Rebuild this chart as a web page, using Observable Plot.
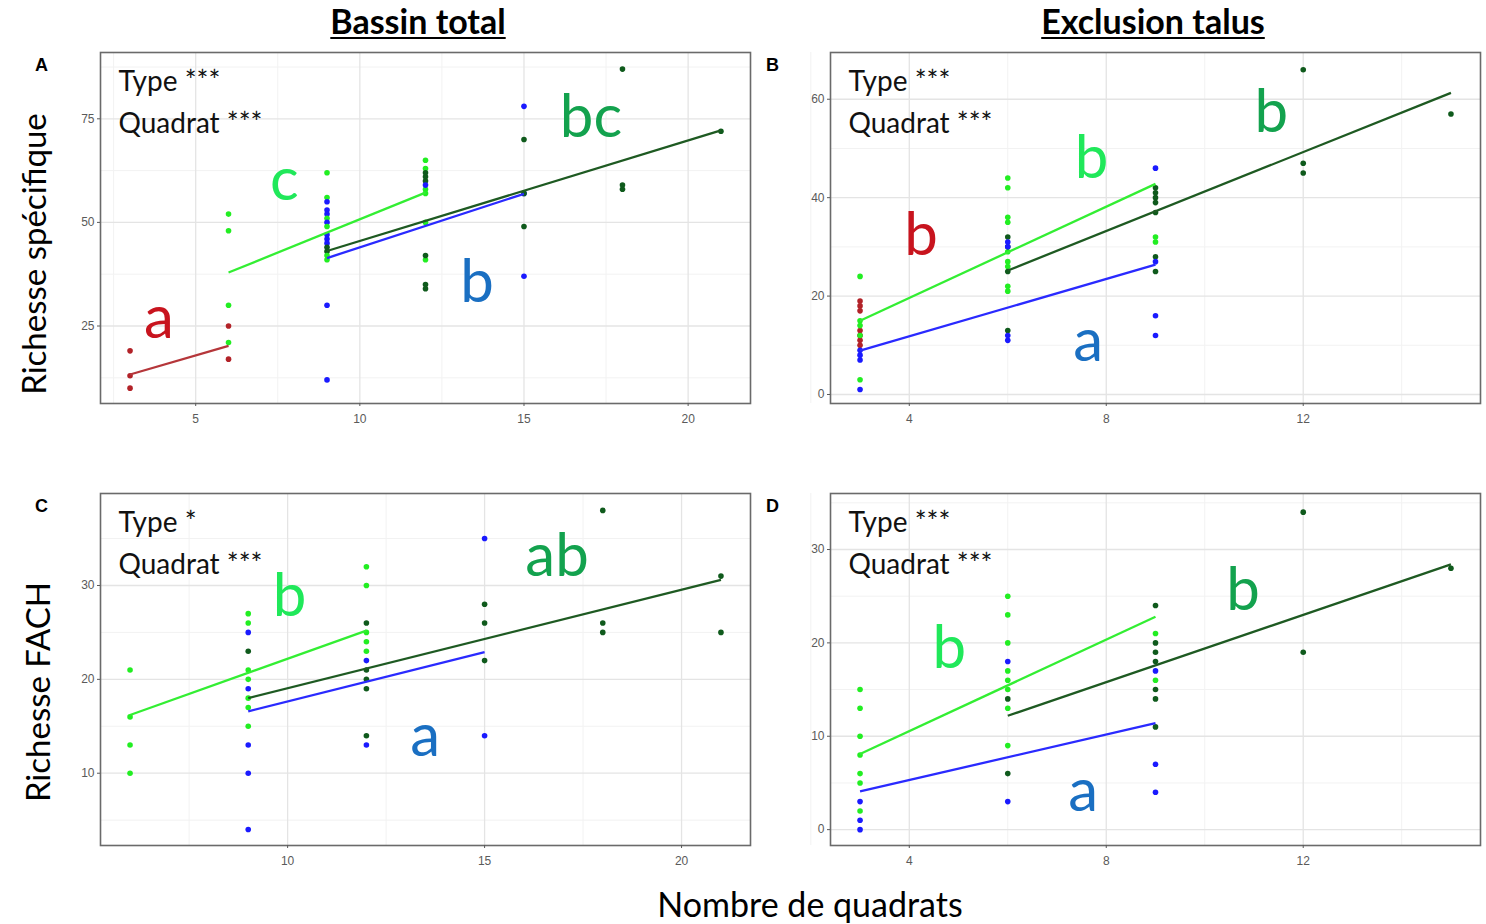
<!DOCTYPE html>
<html>
<head>
<meta charset="utf-8">
<script src="https://cdn.jsdelivr.net/npm/d3@7"></script>
<script src="https://cdn.jsdelivr.net/npm/@observablehq/plot@0.6"></script>
<style>
  html, body { margin: 0; padding: 0; background: #fff; }
  #root { position: relative; width: 1486px; height: 924px; overflow: hidden; font-family: Lato, "Open Sans", sans-serif; }
  .abs { position: absolute; white-space: nowrap; line-height: 1; }
  .title { font-weight: 700; font-size: 34px; text-decoration: underline; text-decoration-thickness: 2px; text-underline-offset: 3px; color: #000; transform: translateX(-50%); }
  .ytitle { font-size: 33px; color: #000; transform: translate(-50%, -50%) rotate(-90deg); }
  .xtitle { font-size: 34px; color: #000; transform: translateX(-50%); }
  .tag { font-family: "Liberation Sans", Arial, sans-serif; font-weight: 700; font-size: 18px; color: #000; }
</style>
</head>
<body>
<div id="root"></div>
<script>
// ---------- types and colours ----------
const types = ["rouge", "clair", "bleu", "fonce"];
const dotColors = ["#b22228", "#22ee22", "#1a1aff", "#0f5a1c"];
const lineColors = ["#b5363a", "#33ee33", "#2a2aff", "#1e5a22"];
const labelColors = ["#c8141e", "#20e85a", "#1a6fc2", "#13a24e"];

// ---------- Panel A : Bassin total / Richesse spécifique ----------
const ptsA_x = [3,3,3, 6,6,6,6,6,6,
  9,9,9,9,9,9,9,9,9,9,9,9,9,9,9,9,9,
  12,12,12,12,12,12,12,12,12,12,12,12,12,
  15,15,15,15,15,15, 18,18,18, 21];
const ptsA_y = [19,13,10, 52,48,30,21,25,17,
  62,56,55,53,52,51,50,49,47,46,45,44,43,42,41,30,12,
  65,63,58,57,50,41,62,61,60,42,35,34,59,
  78,37,57,70,49,57, 87,59,58, 72];
const ptsA_t = ["rouge","rouge","rouge", "clair","clair","clair","clair","rouge","rouge",
  "clair","clair","bleu","bleu","bleu","clair","bleu","clair","bleu","bleu","bleu","fonce","fonce","clair","clair","bleu","bleu",
  "clair","clair","clair","clair","clair","clair","fonce","fonce","fonce","fonce","fonce","fonce","bleu",
  "bleu","bleu","bleu","fonce","fonce","fonce", "fonce","fonce","fonce", "fonce"];
const fitA_t = ["rouge","clair","bleu","fonce"];
const fitA_x1 = [3, 6, 9, 9];
const fitA_y1 = [13.3, 37.9, 41.4, 43.1];
const fitA_x2 = [6, 12, 15, 21];
const fitA_y2 = [20.2, 57.2, 56.9, 72.2];
const lblA_text = ["a", "c", "b", "bc"];
const lblA_t = ["rouge", "clair", "bleu", "fonce"];
const lblA_x = [3.88, 7.7, 13.57, 17.04];
const lblA_y = [22.1, 55.4, 30.8, 70.7];
const statA = ["Type ***", "Quadrat ***"];
const ticksA_x = [5, 10, 15, 20];
const minorA_x = [2.5, 7.5, 12.5, 17.5];
const ticksA_y = [25, 50, 75];
const minorA_y = [12.5, 37.5, 62.5, 87.5];

// ---------- Panel B : Exclusion talus / Richesse spécifique ----------
const ptsB_x = [3,3,3,3,3,3,3, 3,3,3,3,3, 3,3,3,3,
  6,6,6,6,6,6,6,6,6, 6,6,6,6, 6,6,6,6,
  9,9,9,9,9,9,9, 9,9, 9,9,9,9,
  12,12,12, 15];
const ptsB_y = [19,18,17,13,12,11,10, 24,15,14,12,3, 9,8,7,1,
  44,42,36,35,29,27,26,22,21, 32,30,25,13, 31,30,12,11,
  42,41,40,39,37,28,25, 32,31, 46,27,16,12,
  66,47,45, 57];
const ptsB_t = ["rouge","rouge","rouge","rouge","rouge","rouge","rouge", "clair","clair","clair","clair","clair", "bleu","bleu","bleu","bleu",
  "clair","clair","clair","clair","clair","clair","clair","clair","clair", "fonce","fonce","fonce","fonce", "bleu","bleu","bleu","bleu",
  "fonce","fonce","fonce","fonce","fonce","fonce","fonce", "clair","clair", "bleu","bleu","bleu","bleu",
  "fonce","fonce","fonce", "fonce"];
const fitB_t = ["clair","bleu","fonce"];
const fitB_x1 = [3, 3, 6];
const fitB_y1 = [15.0, 8.9, 25.2];
const fitB_x2 = [9, 9, 15];
const fitB_y2 = [42.8, 26.4, 61.3];
const lblB_text = ["b", "b", "b", "a"];
const lblB_t = ["rouge", "clair", "fonce", "bleu"];
const lblB_x = [4.24, 7.70, 11.35, 7.63];
const lblB_y = [28.3, 43.9, 53.3, 6.9];
const statB = ["Type ***", "Quadrat ***"];
const ticksB_x = [4, 8, 12];
const minorB_x = [2, 6, 10, 14];
const ticksB_y = [0, 20, 40, 60];
const minorB_y = [10, 30, 50];

// ---------- Panel C : Bassin total / Richesse FACH ----------
const ptsC_x = [6,6,6,6,
  9,9,9,9,9,9,9, 9,9,9,9,9, 9,
  12,12,12,12,12, 12,12, 12,12,12,12,12,
  15,15, 15,15,15, 18,18,18, 21,21];
const ptsC_y = [21,16,13,10,
  27,26,21,20,18,17,15, 25,19,13,10,4, 23,
  32,30,25,24,23, 22,13, 26,21,20,19,14,
  35,14, 28,26,22, 38,26,25, 31,25];
const ptsC_t = ["clair","clair","clair","clair",
  "clair","clair","clair","clair","clair","clair","clair", "bleu","bleu","bleu","bleu","bleu", "fonce",
  "clair","clair","clair","clair","clair", "bleu","bleu", "fonce","fonce","fonce","fonce","fonce",
  "bleu","bleu", "fonce","fonce","fonce", "fonce","fonce","fonce", "fonce","fonce"];
const fitC_t = ["clair","bleu","fonce"];
const fitC_x1 = [6, 9, 9];
const fitC_y1 = [16.2, 16.6, 18.0];
const fitC_x2 = [12, 15, 21];
const fitC_y2 = [25.2, 22.9, 30.6];
const lblC_text = ["b", "a", "ab"];
const lblC_t = ["clair", "bleu", "fonce"];
const lblC_x = [10.05, 13.49, 16.84];
const lblC_y = [26.7, 11.8, 31.0];
const statC = ["Type *", "Quadrat ***"];
const ticksC_x = [10, 15, 20];
const minorC_x = [7.5, 12.5, 17.5];
const ticksC_y = [10, 20, 30];
const minorC_y = [5, 15, 25, 35];

// ---------- Panel D : Exclusion talus / Richesse FACH ----------
const ptsD_x = [3,3,3,3,3,3,3, 3,3,3,
  6,6,6,6,6,6,6,6, 6,6, 6,6,
  9,9,9,9,9,9,9, 9,9, 9,9,9,
  12,12, 15];
const ptsD_y = [15,13,10,8,6,5,2, 3,1,0,
  25,23,20,17,16,15,13,9, 18,3, 14,6,
  24,20,19,18,15,14,11, 21,16, 17,7,4,
  34,19, 28];
const ptsD_t = ["clair","clair","clair","clair","clair","clair","clair", "bleu","bleu","bleu",
  "clair","clair","clair","clair","clair","clair","clair","clair", "bleu","bleu", "fonce","fonce",
  "fonce","fonce","fonce","fonce","fonce","fonce","fonce", "clair","clair", "bleu","bleu","bleu",
  "fonce","fonce", "fonce"];
const fitD_t = ["clair","bleu","fonce"];
const fitD_x1 = [3, 3, 6];
const fitD_y1 = [8.1, 4.1, 12.2];
const fitD_x2 = [9, 9, 15];
const fitD_y2 = [22.8, 11.4, 28.4];
const lblD_text = ["b", "a", "b"];
const lblD_t = ["clair", "bleu", "fonce"];
const lblD_x = [4.81, 7.53, 10.78];
const lblD_y = [17.3, 2.0, 23.5];
const statD = ["Type ***", "Quadrat ***"];
const ticksD_x = [4, 8, 12];
const minorD_x = [2, 6, 10, 14];
const ticksD_y = [0, 10, 20, 30];
const minorD_y = [5, 15, 25, 35];

// ---------- helpers ----------
const col = (arr) => (t) => arr[types.indexOf(t)];
function zipPts(xs, ys, ts) { return xs.map((x, i) => ({x, y: ys[i], t: ts[i]})); }
function zipFits(ts, x1, y1, x2, y2) { return ts.map((t, i) => ({t, x1: x1[i], y1: y1[i], x2: x2[i], y2: y2[i]})); }
function zipLbl(txt, ts, xs, ys) { return txt.map((s, i) => ({s, t: ts[i], x: xs[i], y: ys[i]})); }

function panel(cfg) {
  const pts = zipPts(cfg.px, cfg.py, cfg.pt);
  const fits = zipFits(cfg.ft, cfg.fx1, cfg.fy1, cfg.fx2, cfg.fy2);
  const lbls = zipLbl(cfg.lt, cfg.ltt, cfg.lx, cfg.ly);
  return Plot.plot({
    width: 682, height: cfg.h,
    marginLeft: 30, marginRight: 2, marginTop: 10, marginBottom: cfg.h - 10 - cfg.ph,
    style: {fontFamily: "Liberation Sans, Arial, sans-serif", fontSize: "12px", background: "#fff"},
    x: {domain: cfg.xd},
    y: {domain: cfg.yd},
    color: {domain: types, range: dotColors},
    marks: [
      Plot.ruleX(cfg.mx, {stroke: "#f2f2f2", strokeWidth: 1}),
      Plot.ruleY(cfg.my, {stroke: "#f2f2f2", strokeWidth: 1}),
      Plot.ruleX(cfg.tx, {stroke: "#e4e4e4", strokeWidth: 1.3}),
      Plot.ruleY(cfg.ty, {stroke: "#e4e4e4", strokeWidth: 1.3}),
      Plot.dot(pts, {x: "x", y: "y", fill: "t", r: 2.8, stroke: "none"}),
      Plot.link(fits, {x1: "x1", y1: "y1", x2: "x2", y2: "y2", stroke: (d) => col(lineColors)(d.t), strokeWidth: 2.3}),
      Plot.text(lbls, {x: "x", y: "y", text: "s", fill: (d) => col(labelColors)(d.t), fontSize: 60, fontFamily: "Lato, 'Open Sans', sans-serif", lineAnchor: "bottom", textAnchor: "middle"}),
      Plot.text([cfg.stat[0]], {text: (d) => d, frameAnchor: "top-left", dx: 18, dy: 38, lineAnchor: "bottom", textAnchor: "start", fontSize: 28, fontFamily: "Lato, 'Open Sans', sans-serif", fill: "#111"}),
      Plot.text([cfg.stat[1]], {text: (d) => d, frameAnchor: "top-left", dx: 18, dy: 80, lineAnchor: "bottom", textAnchor: "start", fontSize: 28, fontFamily: "Lato, 'Open Sans', sans-serif", fill: "#111"}),
      Plot.frame({stroke: "#6a6a6a", strokeWidth: 1.6}),
      Plot.axisX(cfg.tx, {tickSize: 3, tickPadding: 8, color: "#5a5a5a", label: null}),
      Plot.axisY(cfg.ty, {tickSize: 3, tickPadding: 3, color: "#5a5a5a", label: null})
    ]
  });
}

const root = document.getElementById("root");
function place(el, left, top) {
  el.style.position = "absolute";
  el.style.left = left + "px";
  el.style.top = top + "px";
  root.appendChild(el);
}
function addText(cls, html, left, top) {
  const d = document.createElement("div");
  d.className = "abs " + cls;
  d.innerHTML = html;
  d.style.left = left + "px";
  d.style.top = top + "px";
  root.appendChild(d);
}

place(panel({px: ptsA_x, py: ptsA_y, pt: ptsA_t, ft: fitA_t, fx1: fitA_x1, fy1: fitA_y1, fx2: fitA_x2, fy2: fitA_y2,
  lt: lblA_text, ltt: lblA_t, lx: lblA_x, ly: lblA_y, stat: statA, tx: ticksA_x, mx: minorA_x, ty: ticksA_y, my: minorA_y,
  xd: [2.1, 21.9], yd: [6.3, 91], h: 391, ph: 351}), 70, 42);
place(panel({px: ptsB_x, py: ptsB_y, pt: ptsB_t, ft: fitB_t, fx1: fitB_x1, fy1: fitB_y1, fx2: fitB_x2, fy2: fitB_y2,
  lt: lblB_text, ltt: lblB_t, lx: lblB_x, ly: lblB_y, stat: statB, tx: ticksB_x, mx: minorB_x, ty: ticksB_y, my: minorB_y,
  xd: [2.4, 15.6], yd: [-1.83, 69.5], h: 391, ph: 351}), 800, 42);
place(panel({px: ptsC_x, py: ptsC_y, pt: ptsC_t, ft: fitC_t, fx1: fitC_x1, fy1: fitC_y1, fx2: fitC_x2, fy2: fitC_y2,
  lt: lblC_text, ltt: lblC_t, lx: lblC_x, ly: lblC_y, stat: statC, tx: ticksC_x, mx: minorC_x, ty: ticksC_y, my: minorC_y,
  xd: [5.25, 21.75], yd: [2.3, 39.8], h: 392, ph: 352}), 70, 483);
place(panel({px: ptsD_x, py: ptsD_y, pt: ptsD_t, ft: fitD_t, fx1: fitD_x1, fy1: fitD_y1, fx2: fitD_x2, fy2: fitD_y2,
  lt: lblD_text, ltt: lblD_t, lx: lblD_x, ly: lblD_y, stat: statD, tx: ticksD_x, mx: minorD_x, ty: ticksD_y, my: minorD_y,
  xd: [2.4, 15.6], yd: [-1.7, 36], h: 392, ph: 352}), 800, 483);

addText("title", "Bassin total", 418, 4);
addText("title", "Exclusion talus", 1153, 4);
addText("ytitle", "Richesse spécifique", 33, 254);
addText("ytitle", "Richesse FACH", 37, 692);
addText("xtitle", "Nombre de quadrats", 810, 887);
addText("tag", "A", 35, 56);
addText("tag", "B", 766, 56);
addText("tag", "C", 35, 497);
addText("tag", "D", 766, 497);
</script>
</body>
</html>
